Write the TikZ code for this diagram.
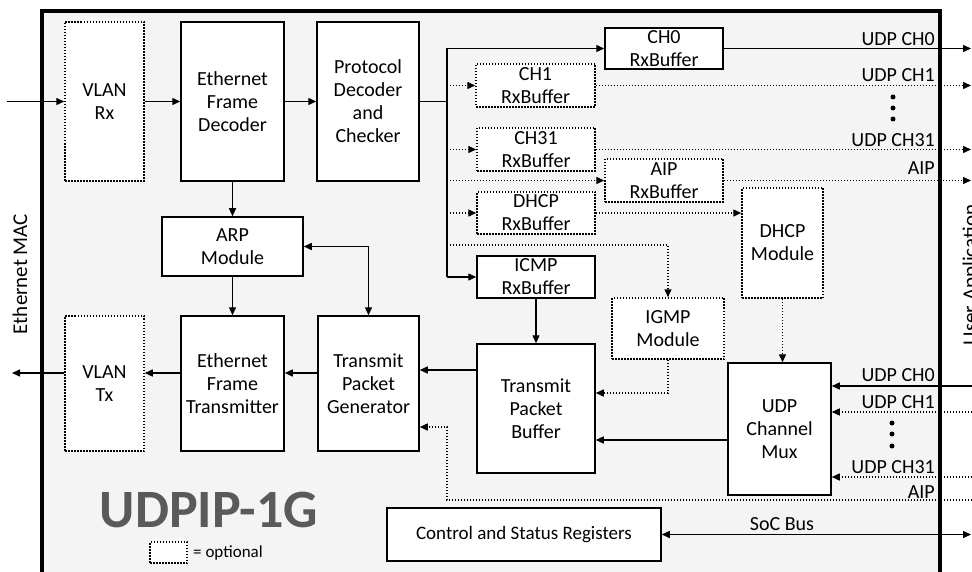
\documentclass[tikz,border=0pt]{standalone}
\usepackage{fontspec}
\setmainfont{Carlito}
\usetikzlibrary{arrows.meta}
\newcommand\myboxfont{\fontsize{20}{23}\selectfont}
\newcommand\mylabfont{\fontsize{20}{23}\selectfont}
\definecolor{framegray}{RGB}{244,244,244}
\definecolor{titlegray}{RGB}{90,90,90}
\begin{document}
\begin{tikzpicture}[x=1pt,y=-1pt,
  box/.style={draw, line width=1.5pt, fill=white, inner sep=0pt, align=center, font=\myboxfont},
  optbox/.style={box, dash pattern=on 1.5pt off 1.5pt},
  tip/.tip={Triangle[length=8pt,width=7pt]},
  arr/.style={line width=1.4pt, -tip},
  darr/.style={arr, dash pattern=on 1.4pt off 1.6pt},
  barr/.style={line width=1.4pt, tip-tip},
  dline/.style={line width=1.4pt, dash pattern=on 1.4pt off 1.6pt},
  sline/.style={line width=1.4pt},
  lab/.style={font=\mylabfont, inner sep=0pt, anchor=base east},
  dotmark/.style={circle, fill=black, inner sep=0pt, minimum size=5pt}]
\useasboundingbox (0,0) rectangle (972,572);
\clip (0,0) rectangle (972,572);
\fill[white] (0,0) rectangle (972,572);
% frame
\draw[line width=3.5pt, fill=framegray] (42,11) rectangle (940,610);
% side labels
\node[rotate=90, font=\fontsize{21}{24}\selectfont] (mac) at (20,274) {Ethernet MAC};
\node[rotate=90, anchor=base, font=\fontsize{21}{24}\selectfont] (uapp) at (977,275) {User Application};
% boxes
\node[optbox, minimum width=79pt, minimum height=159pt] (vrx) at (104.5,101.5) {VLAN\\Rx};
\node[box, minimum width=103pt, minimum height=159pt] (efd) at (232.5,101.5) {Ethernet\\Frame\\Decoder};
\node[box, minimum width=102pt, minimum height=159pt] (pdc) at (368,101.5) {Protocol\\Decoder\\and\\Checker};
\node[box, minimum width=118pt, minimum height=41pt] (ch0) at (664,48.5) {CH0\\RxBuffer};
\node[optbox, minimum width=119pt, minimum height=43pt] (ch1) at (535.5,85.5) {CH1\\RxBuffer};
\node[optbox, minimum width=118pt, minimum height=43pt] (ch31) at (536,149.5) {CH31\\RxBuffer};
\node[optbox, minimum width=118pt, minimum height=43pt] (aiprx) at (664,180.5) {AIP\\RxBuffer};
\node[optbox, minimum width=118pt, minimum height=42pt] (dhcprx) at (536,213) {DHCP\\RxBuffer};
\node[box, minimum width=118pt, minimum height=42pt] (icmp) at (536,277) {ICMP\\RxBuffer};
\node[optbox, minimum width=81pt, minimum height=110pt] (dhcpm) at (782.5,243) {DHCP\\Module};
\node[optbox, minimum width=112pt, minimum height=61pt] (igmp) at (668,328.5) {IGMP\\Module};
\node[box, minimum width=118pt, minimum height=129pt] (tpb) at (536,408.5) {Transmit\\Packet\\Buffer};
\node[box, minimum width=103pt, minimum height=132pt] (mux) at (779.5,429) {UDP\\Channel\\Mux};
\node[box, minimum width=101pt, minimum height=135pt] (tpg) at (368.5,383.5) {Transmit\\Packet\\Generator};
\node[box, minimum width=103pt, minimum height=135pt] (eft) at (232.5,383.5) {Ethernet\\Frame\\Transmitter};
\node[optbox, minimum width=79pt, minimum height=135pt] (vtx) at (104.5,383.5) {VLAN\\Tx};
\node[box, minimum width=141pt, minimum height=59pt] (arp) at (232.5,246.5) {ARP\\Module};
\node[box, minimum width=274pt, minimum height=53pt, font=\fontsize{19}{22}\selectfont] (csr) at (524,534.5) {Control and Status Registers};
% title and legend
\node[font=\fontsize{54}{60}\selectfont\bfseries, text=titlegray, inner sep=0pt] (title) at (209,510) {UDPIP-1G};
\node[optbox, minimum width=37pt, minimum height=21pt] (leg) at (168.5,552.5) {};
\node[font=\fontsize{17}{19}\selectfont, anchor=west, inner sep=0pt] (legt) at (193,552.5) {= optional};
% coordinates
\coordinate (inL) at (7,101.5);
\coordinate (outL) at (12,373);
\coordinate (txrow) at (300,373);
\coordinate (bt) at (447,48.5);
\coordinate (bb) at (447,277);
\coordinate (igb) at (447,245);
\coordinate (rOut) at (971,0);
\coordinate (u0) at (972,386);
\coordinate (u1) at (972,412);
\coordinate (u31) at (972,477);
\coordinate (aipin) at (972,500);
\coordinate (aipc1) at (447,500);
\coordinate (aipc2) at (447,427);
\coordinate (igc) at (668,393);
\coordinate (muxrow) at (700,440);
\coordinate (tprow) at (450,370);
% input side
\draw[arr] (inL) -- (vrx.west);
\draw[arr] (vrx.east) -- (efd.west);
\draw[arr] (efd.east) -- (pdc.west);
\draw[sline] (pdc.east) -- (pdc.east -| bt);
\draw[sline] (bt) -- (bb);
\draw[arr] (bt) -- (ch0.west);
\draw[darr] (bt |- ch1.west) -- (ch1.west);
\draw[darr] (bt |- ch31.west) -- (ch31.west);
\draw[darr] (bt |- aiprx.west) -- (aiprx.west);
\draw[darr] (bt |- dhcprx.west) -- (dhcprx.west);
\draw[arr] (bb) -- (icmp.west);
\draw[darr] (igb) -| (igmp.north);
% outputs to user application
\draw[arr] (ch0.east) -- (ch0.east -| rOut);
\draw[darr] (ch1.east) -- (ch1.east -| rOut);
\draw[darr] (ch31.east) -- (ch31.east -| rOut);
\draw[darr] (aiprx.east) -- (aiprx.east -| rOut);
\node[lab] (l0) at (935,46) {UDP CH0};
\node[lab] (l1) at (935,82) {UDP CH1};
\node[lab] (l31) at (935,147) {UDP CH31};
\node[lab] (laip) at (935,175) {AIP};
\node[dotmark] (d1) at (893,97) {};
\node[dotmark] (d2) at (893,108) {};
\node[dotmark] (d3) at (893,119) {};
% DHCP
\draw[darr] (dhcprx.east) -- (dhcprx.east -| dhcpm.west);
\draw[darr] (dhcpm.south) -- (dhcpm.south |- mux.north);
% IGMP
\draw[darr] (igmp.south) -- (igc) -- (igc -| tpb.east);
% ICMP
\draw[arr] (icmp.south) -- (tpb.north);
% inputs from user application
\draw[arr] (u0) -- (u0 -| mux.east);
\draw[darr] (u1) -- (u1 -| mux.east);
\draw[darr] (u31) -- (u31 -| mux.east);
\node[lab] (i0) at (935,381) {UDP CH0};
\node[lab] (i1) at (935,408) {UDP CH1};
\node[lab] (i31) at (935,473) {UDP CH31};
\node[lab] (iaip) at (935,498) {AIP};
\node[dotmark] (e1) at (892,423) {};
\node[dotmark] (e2) at (892,434) {};
\node[dotmark] (e3) at (892,446) {};
\draw[darr] (aipin) -- (aipc1) -- (aipc2) -- (aipc2 -| tpg.east);
% mux to buffer
\draw[arr] (muxrow -| mux.west) -- (muxrow -| tpb.east);
% buffer to generator
\draw[arr] (tprow -| tpb.west) -- (tprow -| tpg.east);
% transmit chain
\draw[arr] (txrow -| tpg.west) -- (txrow -| eft.east);
\draw[arr] (txrow -| eft.west) -- (txrow -| vtx.east);
\draw[arr] (txrow -| vtx.west) -- (outL);
% ARP
\draw[arr] (efd.south) -- (arp.north);
\draw[arr] (arp.south) -- (eft.north);
\draw[barr] (arp.east) -| (tpg.north);
% SoC bus
\draw[barr] (csr.east) -- (csr.east -| rOut);
\node[font=\mylabfont, inner sep=0pt, anchor=base] (soc) at (782,530) {SoC Bus};
\end{tikzpicture}
\end{document}
